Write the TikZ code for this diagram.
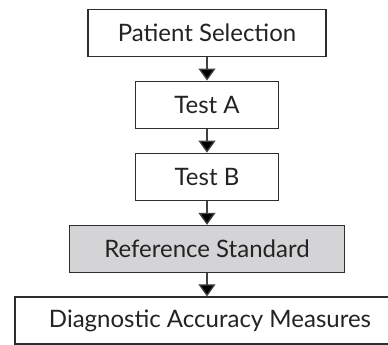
\documentclass[tikz,border=0pt]{standalone}
\usepackage{fontspec}
\setmainfont{Lato}
\usetikzlibrary{arrows.meta}

\definecolor{boxline}{RGB}{45,45,45}
\definecolor{refgray}{RGB}{212,212,214}
\definecolor{txt}{RGB}{35,35,35}

\tikzset{
	stepbox/.style={draw=boxline, line width=1.3pt, fill=white, text=txt, inner sep=0pt,
		minimum height=47pt, font=\fontsize{24}{27}\selectfont},
	flow/.style={draw=boxline!90, line width=1.3pt, -{Triangle[width=17pt,length=12pt,fill=black]}}
}

\begin{document}
\begin{tikzpicture}[x=1pt,y=1pt]
	\useasboundingbox (0,0) rectangle (388,345);		%same size as the figure

	\node[stepbox, minimum width=238pt] (sel) at (207,312.3) {Patient Selection};
	\node[stepbox, minimum width=143pt] (testA) at (207,240.3) {Test A};
	\node[stepbox, minimum width=143pt] (testB) at (207,168.2) {Test B};
	\node[stepbox, minimum width=275pt, fill=refgray] (refstd) at (207,96) {Reference Standard};	%shaded
	\node[stepbox, minimum width=390pt] (diag) at (210,24.5) {Diagnostic Accuracy Measures};	%runs off the right edge

	%arrows
	\draw[flow] (sel) -- (testA);
	\draw[flow] (testA) -- (testB);
	\draw[flow] (testB) -- (refstd);
	\draw[flow] (refstd) -- (refstd |- diag.north);
\end{tikzpicture}
\end{document}
